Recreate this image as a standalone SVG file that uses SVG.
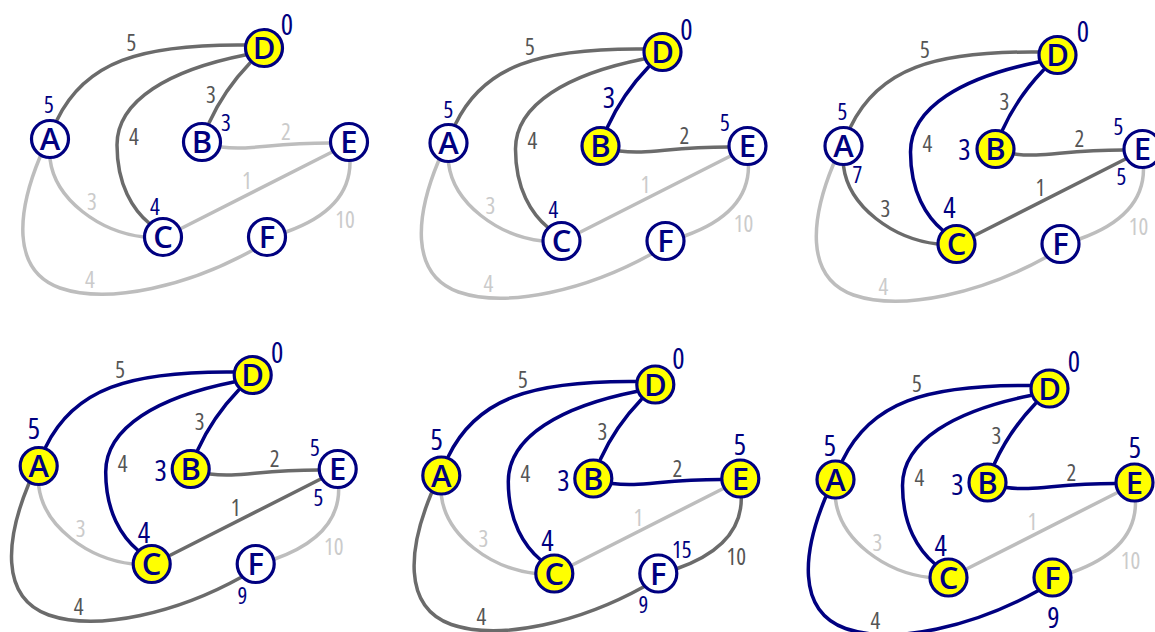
<svg xmlns="http://www.w3.org/2000/svg" xmlns:xlink="http://www.w3.org/1999/xlink" width="1155" height="632" viewBox="0 0 1155 632">
<style>
.e{fill:none;stroke-width:3.5;stroke-linecap:round}
.dk{stroke:#6b6b6b}
.lt{stroke:#bdbdbd}
.bl{stroke:#000080}
.n{stroke:#000080;stroke-width:3.2;fill:#fff}
.y{fill:#ffff00}
.nl{font-family:"Open Sans","Noto Sans",sans-serif;font-weight:600;font-size:31px;fill:#000080;text-anchor:middle}
.el{font-family:"Open Sans","Noto Sans",sans-serif;font-weight:500;font-stretch:80%;font-size:23px;text-anchor:middle}
.ld{fill:#555}
.ll{fill:#cbcbcb}
.d{font-family:"Open Sans","Noto Sans",sans-serif;font-weight:500;font-stretch:80%;font-size:23px;fill:#000080;text-anchor:middle}
.D{font-family:"Open Sans","Noto Sans",sans-serif;font-weight:500;font-stretch:80%;font-size:29px;fill:#000080;text-anchor:middle}
</style>
<defs>
<path id="eAD" class="e" d="M57,120 C85,62 140,44 245,45"/>
<path id="eDC" class="e" d="M245,55 C170,70 117,100 117,145 C117,185 133,210 150,224"/>
<path id="eDB" class="e" d="M250,63 Q224,90 209,123"/>
<path id="eBE" class="e" d="M221,147 C250,151 270,143 330,143"/>
<path id="eCE" class="e" d="M182,228 L332,152"/>
<path id="eAC" class="e" d="M50,159 C55,200 100,232 144,237"/>
<path id="eAF" class="e" d="M40,157 C18,210 10,270 60,288 C110,305 190,285 253,250"/>
<path id="eEF" class="e" d="M350,162 C350,200 320,220 286,232"/>
</defs>

<!-- Panel 1 -->
<g id="panel1" transform="translate(0,0)">
<g id="p1-edges">
<use href="#eAD" class="dk"/><use href="#eDC" class="dk"/><use href="#eDB" class="dk"/><use href="#eBE" class="lt"/>
<use href="#eCE" class="lt"/><use href="#eAC" class="lt"/><use href="#eAF" class="lt"/><use href="#eEF" class="lt"/>
<text class="el ld" x="131.5" y="51">5</text><text class="el ld" x="134" y="145">4</text><text class="el ld" x="211" y="103">3</text>
<text class="el ll" x="286" y="140">2</text><text class="el ll" x="247" y="189">1</text><text class="el ll" x="92" y="210">3</text>
<text class="el ll" x="90" y="288">4</text><text class="el ll" x="345" y="228">10</text>
</g>
<g id="p1-A"><circle class="n" cx="50" cy="139" r="18.5"/><text class="nl" x="50" y="150">A</text><text class="d" x="49" y="113">5</text></g>
<g id="p1-B"><circle class="n" cx="202" cy="142" r="18.5"/><text class="nl" x="202" y="153">B</text><text class="d" x="226" y="131">3</text></g>
<g id="p1-C"><circle class="n" cx="163" cy="237" r="18.5"/><text class="nl" x="163" y="248">C</text><text class="d" x="155" y="215">4</text></g>
<g id="p1-D"><circle class="n y" cx="264" cy="48" r="18.5"/><text class="nl" x="264" y="59">D</text><text class="D" x="287" y="35">0</text></g>
<g id="p1-E"><circle class="n" cx="349" cy="142" r="18.5"/><text class="nl" x="349" y="153">E</text></g>
<g id="p1-F"><circle class="n" cx="267" cy="237" r="18.5"/><text class="nl" x="267" y="248">F</text></g>
</g>

<!-- Panel 2 -->
<g id="panel2" transform="translate(398.5,4)">
<g id="p2-edges">
<use href="#eAD" class="dk"/><use href="#eDC" class="dk"/><use href="#eDB" class="bl"/><use href="#eBE" class="dk"/>
<use href="#eCE" class="lt"/><use href="#eAC" class="lt"/><use href="#eAF" class="lt"/><use href="#eEF" class="lt"/>
<text class="el ld" x="131.5" y="51">5</text><text class="el ld" x="134" y="145">4</text><text class="D" x="210.5" y="104">3</text>
<text class="el ld" x="286" y="140">2</text><text class="el ll" x="247" y="189">1</text><text class="el ll" x="92" y="210">3</text>
<text class="el ll" x="90" y="288">4</text><text class="el ll" x="345" y="228">10</text>
</g>
<g id="p2-A"><circle class="n" cx="50" cy="139" r="18.5"/><text class="nl" x="50" y="150">A</text><text class="d" x="50" y="114">5</text></g>
<g id="p2-B"><circle class="n y" cx="202" cy="142" r="18.5"/><text class="nl" x="202" y="153">B</text></g>
<g id="p2-C"><circle class="n" cx="163" cy="237" r="18.5"/><text class="nl" x="163" y="248">C</text><text class="d" x="155" y="214">4</text></g>
<g id="p2-D"><circle class="n y" cx="264" cy="48" r="18.5"/><text class="nl" x="264" y="59">D</text><text class="D" x="288" y="36">0</text></g>
<g id="p2-E"><circle class="n" cx="349" cy="142" r="18.5"/><text class="nl" x="349" y="153">E</text><text class="d" x="326.5" y="127">5</text></g>
<g id="p2-F"><circle class="n" cx="267" cy="237" r="18.5"/><text class="nl" x="267" y="248">F</text></g>
</g>

<!-- Panel 3 -->
<g id="panel3" transform="translate(793.5,7)">
<g id="p3-edges">
<use href="#eAD" class="dk"/><use href="#eDC" class="bl"/><use href="#eDB" class="bl"/><use href="#eBE" class="dk"/>
<use href="#eCE" class="dk"/><use href="#eAC" class="dk"/><use href="#eAF" class="lt"/><use href="#eEF" class="lt"/>
<text class="el ld" x="131.5" y="51">5</text><text class="el ld" x="134" y="145">4</text><text class="el ld" x="211" y="103">3</text>
<text class="el ld" x="286" y="140">2</text><text class="el ld" x="247" y="189">1</text><text class="el ld" x="92" y="210">3</text>
<text class="el ll" x="90" y="288">4</text><text class="el ll" x="345" y="228">10</text>
</g>
<g id="p3-A"><circle class="n" cx="50" cy="139" r="18.5"/><text class="nl" x="50" y="150">A</text><text class="d" x="49" y="113">5</text><text class="d" x="64" y="176">7</text></g>
<g id="p3-B"><circle class="n y" cx="202" cy="142" r="18.5"/><text class="nl" x="202" y="153">B</text><text class="D" x="171" y="153">3</text></g>
<g id="p3-C"><circle class="n y" cx="163" cy="237" r="18.5"/><text class="nl" x="163" y="248">C</text><text class="D" x="156" y="211">4</text></g>
<g id="p3-D"><circle class="n y" cx="264" cy="48" r="18.5"/><text class="nl" x="264" y="59">D</text><text class="D" x="289.5" y="35">0</text></g>
<g id="p3-E"><circle class="n" cx="349" cy="142" r="18.5"/><text class="nl" x="349" y="153">E</text><text class="d" x="325" y="128">5</text><text class="d" x="328" y="178">5</text></g>
<g id="p3-F"><circle class="n" cx="267" cy="237" r="18.5"/><text class="nl" x="267" y="248">F</text></g>
</g>

<!-- Panel 4 -->
<g id="panel4" transform="translate(-11.3,327)">
<g id="p4-edges">
<use href="#eAD" class="bl"/><use href="#eDC" class="bl"/><use href="#eDB" class="bl"/><use href="#eBE" class="dk"/>
<use href="#eCE" class="dk"/><use href="#eAC" class="lt"/><use href="#eAF" class="dk"/><use href="#eEF" class="lt"/>
<text class="el ld" x="131.5" y="51">5</text><text class="el ld" x="134" y="145">4</text><text class="el ld" x="211" y="103">3</text>
<text class="el ld" x="286" y="140">2</text><text class="el ld" x="247" y="189">1</text><text class="el ll" x="92" y="210">3</text>
<text class="el ld" x="90" y="288">4</text><text class="el ll" x="345" y="228">10</text>
</g>
<g id="p4-A"><circle class="n y" cx="50" cy="139" r="18.5"/><text class="nl" x="50" y="150">A</text><text class="D" x="45.3" y="112">5</text></g>
<g id="p4-B"><circle class="n y" cx="202" cy="142" r="18.5"/><text class="nl" x="202" y="153">B</text><text class="D" x="172" y="154">3</text></g>
<g id="p4-C"><circle class="n y" cx="163" cy="237" r="18.5"/><text class="nl" x="163" y="248">C</text><text class="D" x="155.3" y="216">4</text></g>
<g id="p4-D"><circle class="n y" cx="264" cy="48" r="18.5"/><text class="nl" x="264" y="59">D</text><text class="D" x="288.6" y="36">0</text></g>
<g id="p4-E"><circle class="n" cx="349" cy="142" r="18.5"/><text class="nl" x="349" y="153">E</text><text class="d" x="326.3" y="129">5</text><text class="d" x="329.6" y="179">5</text></g>
<g id="p4-F"><circle class="n" cx="267" cy="237" r="18.5"/><text class="nl" x="267" y="248">F</text><text class="d" x="253.6" y="277">9</text></g>
</g>

<!-- Panel 5 -->
<g id="panel5" transform="translate(391.3,336.5)">
<g id="p5-edges">
<use href="#eAD" class="bl"/><use href="#eDC" class="bl"/><use href="#eDB" class="bl"/><use href="#eBE" class="bl"/>
<use href="#eCE" class="lt"/><use href="#eAC" class="lt"/><use href="#eAF" class="dk"/><use href="#eEF" class="dk"/>
<text class="el ld" x="131.5" y="51">5</text><text class="el ld" x="134" y="145">4</text><text class="el ld" x="211" y="103">3</text>
<text class="el ld" x="286" y="140">2</text><text class="el ll" x="247" y="189">1</text><text class="el ll" x="92" y="210">3</text>
<text class="el ld" x="90" y="288">4</text><text class="el ld" x="345" y="228">10</text>
</g>
<g id="p5-A"><circle class="n y" cx="50" cy="139" r="18.5"/><text class="nl" x="50" y="150">A</text><text class="D" x="45.4" y="113">5</text></g>
<g id="p5-B"><circle class="n y" cx="202" cy="142" r="18.5"/><text class="nl" x="202" y="153">B</text><text class="D" x="172" y="154.5">3</text></g>
<g id="p5-C"><circle class="n y" cx="163" cy="237" r="18.5"/><text class="nl" x="163" y="248">C</text><text class="D" x="156" y="214.5">4</text></g>
<g id="p5-D"><circle class="n y" cx="264" cy="48" r="18.5"/><text class="nl" x="264" y="59">D</text><text class="D" x="287" y="32">0</text></g>
<g id="p5-E"><circle class="n y" cx="349" cy="142" r="18.5"/><text class="nl" x="349" y="153">E</text><text class="D" x="348.7" y="118">5</text></g>
<g id="p5-F"><circle class="n" cx="267" cy="237" r="18.5"/><text class="nl" x="267" y="248">F</text><text class="d" x="290.4" y="221">15</text><text class="d" x="252" y="276">9</text></g>
</g>

<!-- Panel 6 -->
<g id="panel6" transform="translate(785.5,340.5)">
<g id="p6-edges">
<use href="#eAD" class="bl"/><use href="#eDC" class="bl"/><use href="#eDB" class="bl"/><use href="#eBE" class="bl"/>
<use href="#eCE" class="lt"/><use href="#eAC" class="lt"/><use href="#eAF" class="bl"/><use href="#eEF" class="lt"/>
<text class="el ld" x="131.5" y="51">5</text><text class="el ld" x="134" y="145">4</text><text class="el ld" x="211" y="103">3</text>
<text class="el ld" x="286" y="140">2</text><text class="el ll" x="247" y="189">1</text><text class="el ll" x="92" y="210">3</text>
<text class="el ld" x="90" y="288">4</text><text class="el ll" x="345" y="228">10</text>
</g>
<g id="p6-A"><circle class="n y" cx="50" cy="139" r="18.5"/><text class="nl" x="50" y="150">A</text><text class="D" x="44.5" y="115">5</text></g>
<g id="p6-B"><circle class="n y" cx="202" cy="142" r="18.5"/><text class="nl" x="202" y="153">B</text><text class="D" x="171.8" y="154">3</text></g>
<g id="p6-C"><circle class="n y" cx="163" cy="237" r="18.5"/><text class="nl" x="163" y="248">C</text><text class="D" x="155.2" y="215.5">4</text></g>
<g id="p6-D"><circle class="n y" cx="264" cy="48" r="18.5"/><text class="nl" x="264" y="59">D</text><text class="D" x="288.5" y="31">0</text></g>
<g id="p6-E"><circle class="n y" cx="349" cy="142" r="18.5"/><text class="nl" x="349" y="153">E</text><text class="D" x="349.5" y="117">5</text></g>
<g id="p6-F"><circle class="n y" cx="267" cy="237" r="18.5"/><text class="nl" x="267" y="248">F</text><text class="D" x="267.8" y="287">9</text></g>
</g>
</svg>
